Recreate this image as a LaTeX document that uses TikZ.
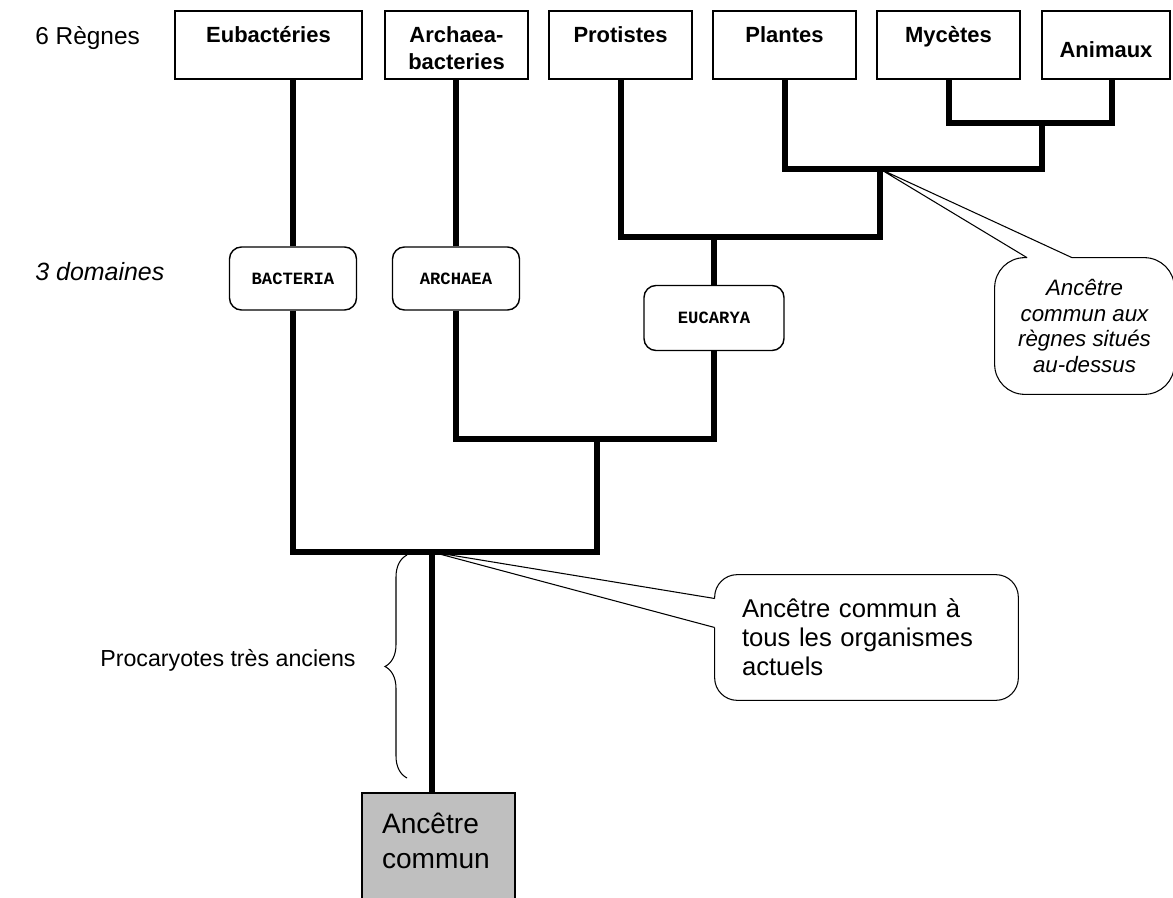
\documentclass[tikz,border=0pt]{standalone}
\usepackage{fontspec}
\setmainfont{Liberation Sans}
\newfontfamily\courier{Liberation Mono}
\usetikzlibrary{decorations.pathreplacing}

\begin{document}
\begin{tikzpicture}
      \useasboundingbox (0,0) rectangle (23.46,-17.96);
      \tikzstyle {regne} = [shape=rectangle, draw=black, line width=0.9pt, minimum height=1.36cm, minimum width=2.86cm, align=center, text height=9pt, text depth=11.3pt, font=\fontsize{12.5}{15.3}\selectfont\bfseries];
      \tikzstyle {domaine} = [shape=rectangle, rounded corners=0.24cm, draw=black, line width=0.8pt, minimum width=2.54cm, minimum height=1.26cm, font=\fontsize{9.8}{11}\selectfont\courier\bfseries];
      \tikzstyle {branche} = [line width=0.12cm, line join=miter];
      \tikzstyle {bulle} = [line width=0.6pt];
      \node (regnes) at (0.7,-0.76) [anchor=west, inner sep=0, font=\fontsize{13.9}{16}\selectfont] {6 Règnes};
      \node (domaines) at (0.7,-5.44) [anchor=west, inner sep=0, font=\fontsize{14.2}{16}\selectfont\itshape] {3 domaines};
      \node (eub) [regne, minimum width=3.74cm] at (5.37,-0.9) {Eubactéries};
      \node (arc) [regne, text height=30pt, text depth=1.8pt] at (9.13,-0.9) {Archaea-\\bacteries};
      \node (pro) [regne] at (12.41,-0.9) {Protistes};
      \node (pla) [regne] at (15.69,-0.9) {Plantes};
      \node (myc) [regne] at (18.97,-0.9) {Mycètes};
      \node (ani) [regne, minimum width=2.56cm, text height=18pt, text depth=3.3pt] at (22.12,-0.9) {Animaux};
      \node (bac) [domaine] at (5.86,-5.57) {BACTERIA};
      \node (arch) [domaine] at (9.12,-5.57) {ARCHAEA};
      \node (euc) [domaine, minimum width=2.8cm, minimum height=1.3cm] at (14.28,-6.36) {EUCARYA};
      \node (regcom) [align=center, minimum width=3.58cm, minimum height=2.72cm, font=\fontsize{12.7}{14.7}\selectfont\itshape] at (21.69,-6.52) {Ancêtre\\commun aux\\règnes situés\\au-dessus};
      \node (tous) [align=left, text width=4.98cm, minimum width=6.06cm, minimum height=2.5cm, font=\fontsize{14.6}{16.6}\selectfont] at (17.33,-12.75) {Ancêtre commun à\\tous les organismes\\actuels};
      \node (ancetre) [anchor=north, fill=black!25, draw=black, line width=0.9pt, minimum width=3.06cm, minimum height=2.6cm, text width=2.26cm, align=left, font=\fontsize{16}{19.8}\selectfont] at (8.77,-15.84) {Ancêtre\\commun\\~};
      \node (proca) at (2.0,-13.2) [anchor=west, inner sep=0, font=\fontsize{13.2}{15}\selectfont] {Procaryotes très anciens};
      \coordinate (ma) at (20.84,-2.46);
      \coordinate (pma) at (17.6,-3.38);
      \coordinate (ppma) at (14.28,-4.74);
      \coordinate (ae) at (11.94,-8.78);
      \coordinate (racine) at (8.64,-11.04);
      \coordinate (hautp) at (8.14,-11.1);
      \coordinate (basp) at (8.14,-15.56);
      \draw [bulle] ([xshift=-1.15cm]regcom.north) -- (pma) -- ([xshift=-0.25cm]regcom.north);
      \draw [bulle, rounded corners=0.6cm] ([xshift=-0.25cm]regcom.north) -- (regcom.north east) -- (regcom.south east) -- (regcom.south west) -- (regcom.north west) -- ([xshift=-1.15cm]regcom.north);
      \draw [bulle] ([yshift=0.2cm]tous.west) -- (racine) -- ([yshift=0.78cm]tous.west);
      \draw [bulle, rounded corners=0.45cm] ([yshift=0.78cm]tous.west) -- (tous.north west) -- (tous.north east) -- (tous.south east) -- (tous.south west) -- ([yshift=0.2cm]tous.west);
      \draw [decorate, decoration={brace, amplitude=0.44cm}, line width=0.6pt] (basp) -- (hautp);
      \draw [branche] (myc.south) |- (ma) -| ([xshift=0.12cm]ani.south);
      \draw [branche] (pla.south) |- (pma) -| (ma);
      \draw [branche] (pro.south) |- (ppma) -| (pma);
      \draw [branche] (euc.north) -- (ppma);
      \draw [branche] (arch.north) -- (arch.north |- arc.south);
      \draw [branche] (arch.south) |- (ae) -| (euc.south);
      \draw [branche] (bac.north) -- (bac.north |- eub.south);
      \draw [branche] (bac.south) |- (racine) -| (ae);
      \draw [branche] (racine) -- (racine |- ancetre.north);
    \end{tikzpicture}
\end{document}
